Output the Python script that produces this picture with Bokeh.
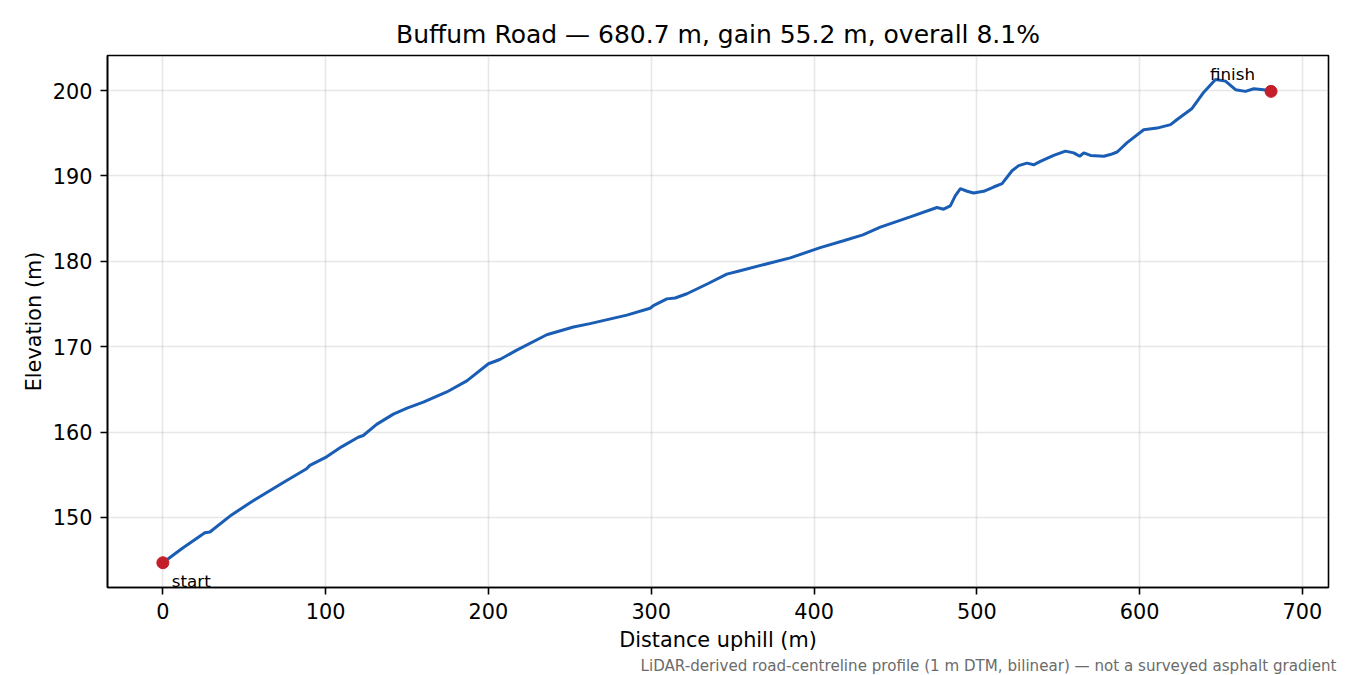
from bokeh.plotting import figure
from bokeh.models import Range1d, FixedTicker, Label, Title
from bokeh.embed import file_html
from bokeh.resources import INLINE

# profile (distance along road, elevation)
dist = [0, 12, 25.8, 28.9, 42.2, 55, 74, 88.3, 90.3, 100.6, 110, 120, 123.1,
        131.3, 141.6, 150, 160, 174.4, 186.7, 200, 207, 217.4, 235.8, 252.2,
        262.4, 285, 299.3, 301.3, 309.6, 314.7, 321.9, 335, 346.4, 354.6,
        373, 385.4, 403.8, 418.1, 430, 440.7, 459.1, 475.5, 479.6, 483.7,
        486.8, 489.9, 494, 498, 504.2, 510.3, 515.5, 521.6, 525.7, 530.8,
        534.9, 539, 547.2, 554.4, 559.5, 563.2, 565.7, 569.8, 578, 582,
        586.2, 592.3, 602.5, 610.7, 619, 623, 632.2, 639.4, 646.6, 652.7,
        658.9, 665, 670.1, 676, 680.7]
elev = [144.7, 146.4, 148.2, 148.3, 150.3, 151.9, 154.1, 155.7, 156.1, 157.1,
        158.3, 159.4, 159.6, 160.9, 162.1, 162.8, 163.5, 164.7, 166.0, 168.0,
        168.5, 169.6, 171.4, 172.3, 172.7, 173.7, 174.5, 174.8, 175.6, 175.7,
        176.2, 177.4, 178.5, 178.9, 179.8, 180.4, 181.6, 182.4, 183.1, 184.0,
        185.2, 186.3, 186.1, 186.5, 187.7, 188.5, 188.2, 188.0, 188.2, 188.7,
        189.1, 190.6, 191.2, 191.5, 191.3, 191.7, 192.4, 192.9, 192.7, 192.3,
        192.7, 192.4, 192.3, 192.5, 192.8, 193.9, 195.4, 195.6, 196.0, 196.6,
        197.9, 199.8, 201.3, 201.1, 200.1, 199.9, 200.2, 200.1, 199.9]

x_ticks = [0, 100, 200, 300, 400, 500, 600, 700]
y_ticks = [150, 160, 170, 180, 190, 200]

title = "Buffum Road \u2014 680.7 m, gain 55.2 m, overall 8.1%"
note = ("LiDAR-derived road-centreline profile (1 m DTM, bilinear) \u2014 "
        "not a surveyed asphalt gradient")

FONT = "DejaVu Sans"

p = figure(width=1350, height=675, output_backend="svg", toolbar_location=None,
           x_range=Range1d(-34, 716), y_range=Range1d(141.8, 204.1),
           x_axis_label="Distance uphill (m)", y_axis_label="Elevation (m)",
           min_border_left=107, min_border_right=22, min_border_top=55,
           min_border_bottom=88)

p.title.text = title
p.title.align = "center"
p.title.text_font = FONT
p.title.text_font_size = "25px"
p.title.text_font_style = "normal"
p.title.text_color = "black"
p.title.standoff = 13

p.outline_line_color = "black"
p.outline_line_width = 1.6
p.outline_line_alpha = 1

p.xaxis.ticker = FixedTicker(ticks=x_ticks)
p.yaxis.ticker = FixedTicker(ticks=y_ticks)
for ax in (p.xaxis, p.yaxis):
    ax.axis_line_color = "black"
    ax.axis_line_width = 1.6
    ax.major_tick_line_color = "black"
    ax.major_tick_line_width = 1.6
    ax.major_tick_out = 7
    ax.major_tick_in = 0
    ax.minor_tick_line_color = None
    ax.major_label_text_font = FONT
    ax.major_label_text_font_size = "20.8px"
    ax.major_label_text_color = "black"
    ax.axis_label_text_font = FONT
    ax.axis_label_text_font_size = "20.8px"
    ax.axis_label_text_font_style = "normal"
    ax.axis_label_text_color = "black"
    ax.major_label_standoff = 8
p.yaxis.axis_label_standoff = 4
p.xaxis.axis_label_standoff = 6

p.grid.grid_line_color = "#b0b0b0"
p.grid.grid_line_alpha = 0.3
p.grid.grid_line_width = 1.6

p.line(dist, elev, line_color="#1a5db4", line_width=3)
p.scatter([dist[0], dist[-1]], [elev[0], elev[-1]], size=12,
          fill_color="#c41e2a", line_color="#c41e2a")

p.add_layout(Label(x=dist[0], y=elev[0], text="start", x_offset=9, y_offset=-28,
                   text_font=FONT, text_font_size="16.7px", text_color="black",
                   text_baseline="bottom", text_align="left"))
p.add_layout(Label(x=dist[-1], y=elev[-1], text="finish", x_offset=-16, y_offset=7,
                   text_font=FONT, text_font_size="16.7px", text_color="black",
                   text_baseline="bottom", text_align="right"))

foot = Title(text=note, align="right", offset=-8, standoff=0,
             text_font=FONT, text_font_size="15.1px", text_color="#6b6b6b",
             text_font_style="normal")
p.add_layout(foot, "below")

open("out.html", "w").write(file_html(p, INLINE))
